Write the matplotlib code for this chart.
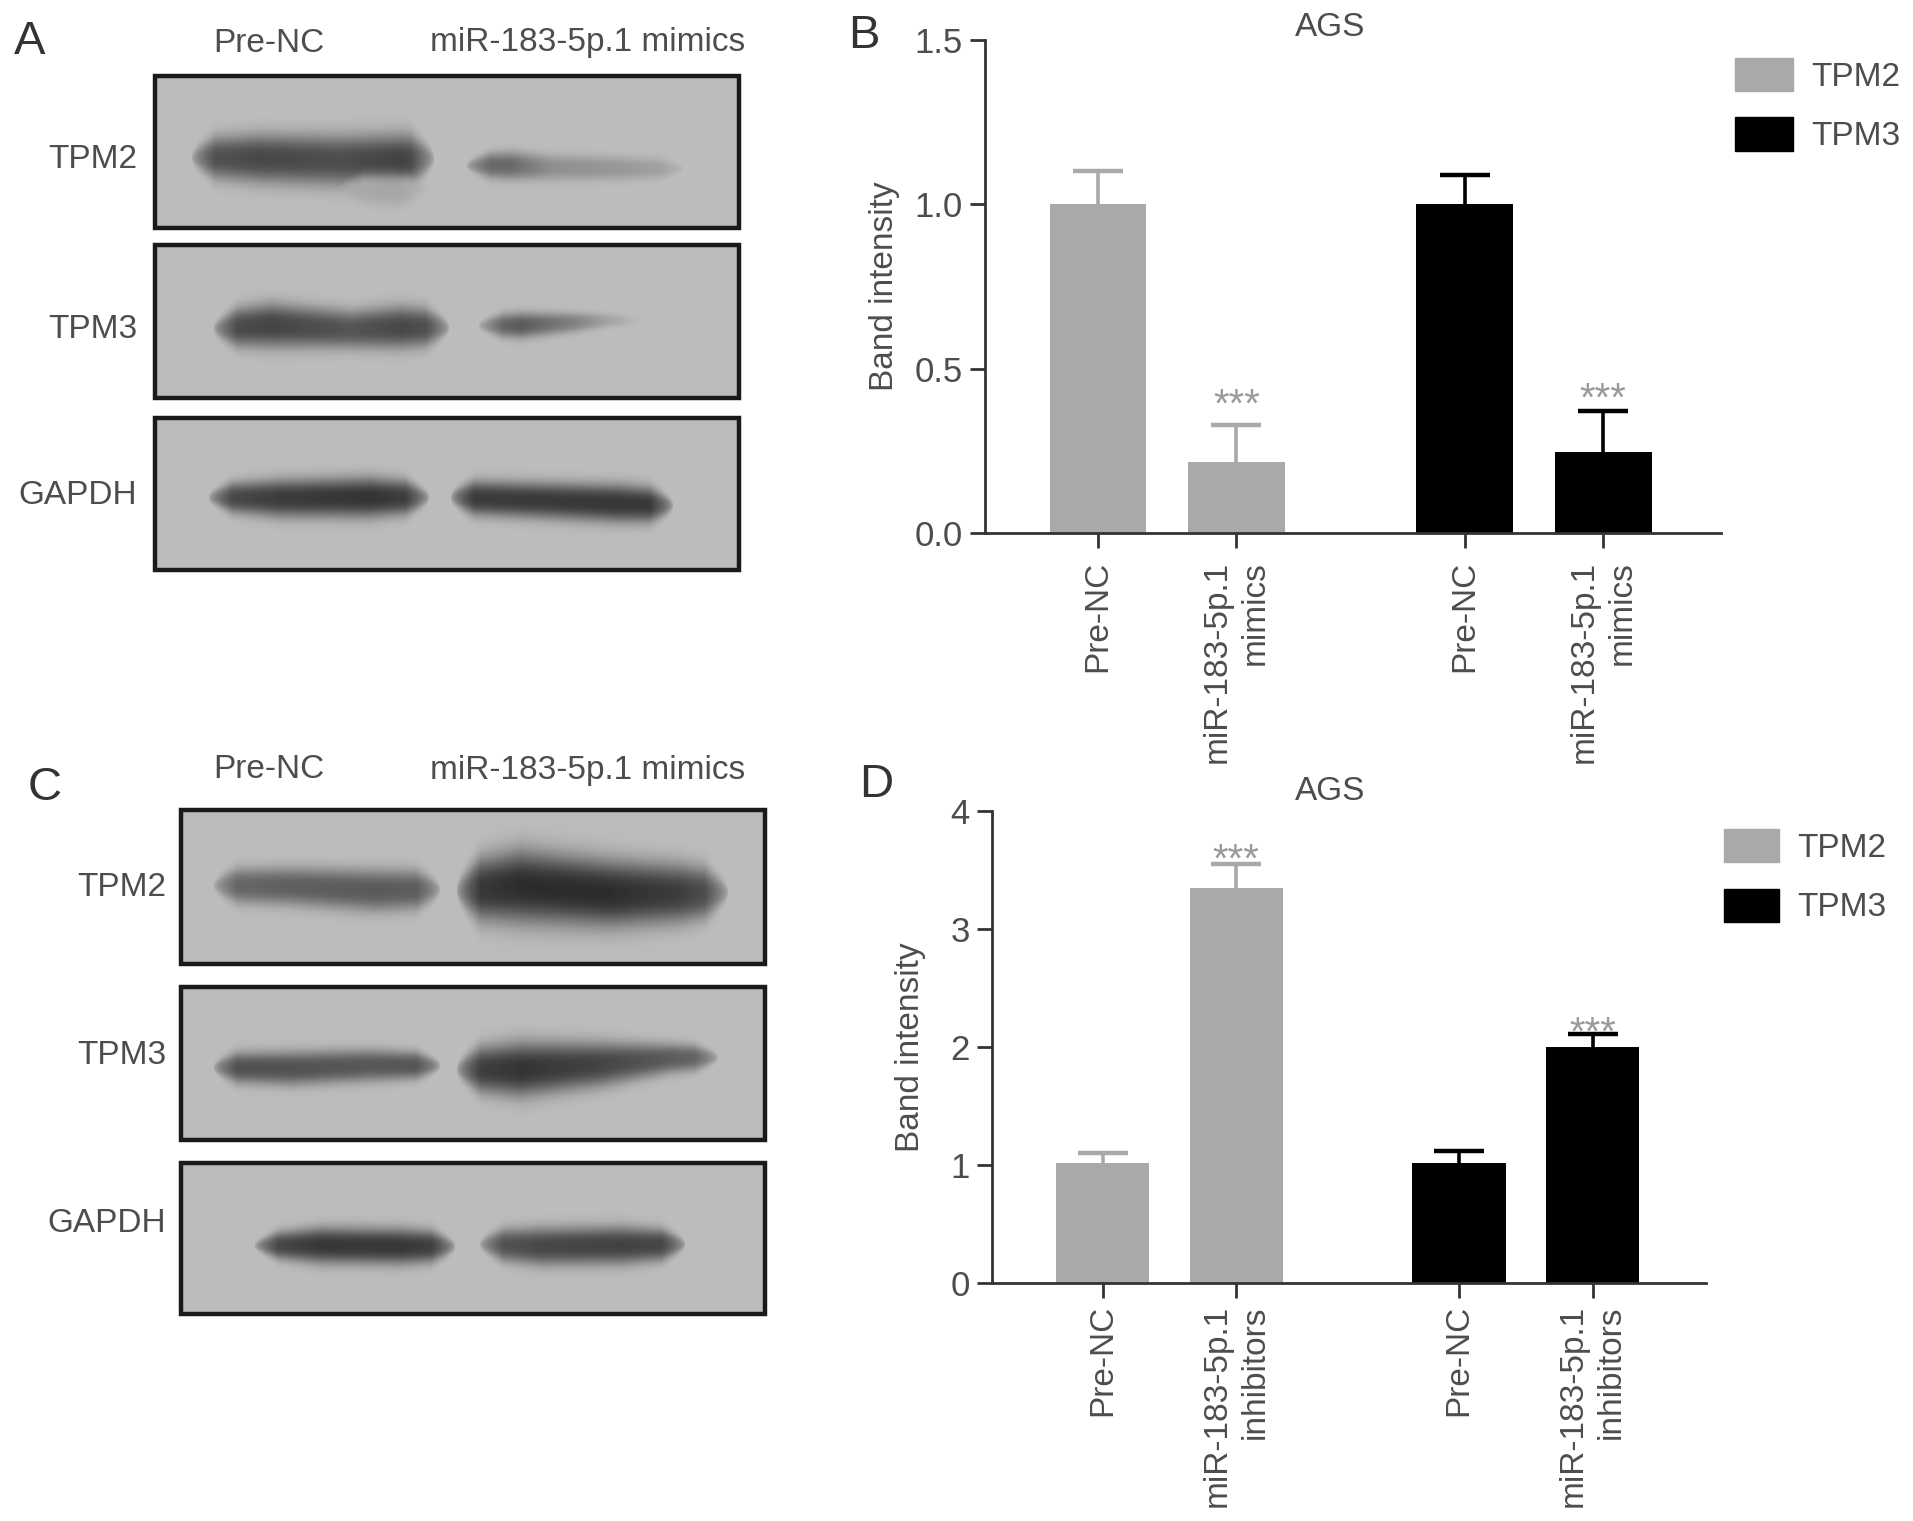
import numpy as np
import matplotlib
matplotlib.use('Agg')
import matplotlib.pyplot as plt
from matplotlib.patches import Patch, Rectangle

plt.rcParams['font.family'] = ['Liberation Sans', 'DejaVu Sans']

W, H = 1913, 1521
TEXT = '#4d4d4d'
AXIS = '#333333'
GRAY = '#a9a9a9'
BLACK = '#000000'
STAR = '#9a9a9a'
BLOT_BG = 188

# --- panel B values ---
b_pos = [0, 1, 2.65, 3.65]
b_vals = [1.0, 0.215, 1.0, 0.245]
b_tops = [1.10, 0.33, 1.09, 0.37]
b_stars = [None, 0.42, None, 0.44]
b_labels = ['Pre-NC', 'miR-183-5p.1\nmimics', 'Pre-NC', 'miR-183-5p.1\nmimics']
b_ticks = [0.0, 0.5, 1.0, 1.5]

# --- panel D values ---
d_pos = [0, 1, 2.67, 3.67]
d_vals = [1.02, 3.35, 1.02, 2.0]
d_tops = [1.105, 3.55, 1.115, 2.11]
d_stars = [None, 3.67, None, 2.21]
d_labels = ['Pre-NC', 'miR-183-5p.1\ninhibitors', 'Pre-NC', 'miR-183-5p.1\ninhibitors']
d_ticks = [0, 1, 2, 3, 4]

bar_colors = [GRAY, GRAY, BLACK, BLACK]

# --- western blot bands: (x, y centre, half height, grey level) along each band ---
a_tpm2 = [[(197, 157, 19, 85), (260, 158, 23, 72), (340, 160, 24, 78), (400, 160, 25, 66), (428, 158, 22, 85)],
          [(345, 188, 12, 172), (395, 190, 15, 165), (425, 188, 10, 178)],
          [(472, 165, 11, 105), (510, 165, 13, 105), (550, 167, 12, 142), (620, 168, 11, 152), (677, 168, 9, 165)]]
a_tpm3 = [[(219, 328, 17, 80), (270, 325, 21, 68), (350, 329, 18, 85), (400, 327, 20, 72), (443, 327, 17, 85)],
          [(484, 325, 10, 115), (520, 325, 12, 90), (575, 322, 9, 130), (610, 320, 6, 165), (640, 320, 4, 184)]]
a_gapdh = [[(214, 497, 13, 78), (280, 498, 18, 60), (370, 497, 19, 52), (423, 497, 15, 68)],
           [(456, 497, 16, 60), (540, 500, 17, 58), (620, 503, 18, 55), (667, 505, 16, 60)]]

c_tpm2 = [[(219, 885, 16, 105), (290, 886, 18, 95), (375, 890, 20, 90), (434, 889, 18, 95)],
          [(462, 890, 28, 62), (520, 886, 35, 45), (610, 893, 32, 45), (680, 893, 28, 62), (722, 892, 22, 90)]]
c_tpm3 = [[(219, 1067, 14, 82), (290, 1068, 16, 82), (370, 1065, 15, 88), (434, 1065, 12, 85)],
          [(462, 1069, 20, 68), (520, 1069, 26, 52), (600, 1064, 21, 68), (670, 1058, 14, 92), (712, 1057, 11, 105)]]
c_gapdh = [[(260, 1245, 11, 78), (320, 1245, 17, 56), (400, 1246, 17, 56), (449, 1246, 14, 68)],
           [(485, 1244, 14, 88), (540, 1246, 18, 72), (620, 1245, 18, 66), (679, 1244, 14, 72)]]


def draw_blot(canvas, box, bands):
    """Paint one blot strip: grey membrane, soft dark bands, black frame."""
    x0, y0, x1, y1 = box
    xx, yy = np.meshgrid(np.arange(x0, x1), np.arange(y0, y1))
    img = np.full(xx.shape, float(BLOT_BG))
    for band in bands:
        pts = np.array(band, dtype=float)
        yc = np.interp(xx, pts[:, 0], pts[:, 1])
        hh = np.interp(xx, pts[:, 0], pts[:, 2])
        level = np.interp(xx, pts[:, 0], pts[:, 3])
        # rounded ends: the band narrows and fades over its last pixels
        ends = np.clip((xx - pts[0, 0] + 6) / 24, 0, 1) * np.clip((pts[-1, 0] + 6 - xx) / 24, 0, 1)
        across = np.exp(-np.abs((yy - yc) / (hh * np.sqrt(ends) + 0.5)) ** 2.6)
        weight = ends ** 0.5 * across
        img = img * (1 - weight) + level * weight
    canvas.imshow(img, extent=(x0, x1, y1, y0), cmap='gray', vmin=0, vmax=255,
                  aspect='auto', interpolation='bilinear', zorder=1)
    canvas.add_patch(Rectangle((x0, y0), x1 - x0, y1 - y0, fill=False,
                               edgecolor='#1a1a1a', linewidth=3.2, zorder=2))


def draw_bars(px_box, xlim, ylim, pos, vals, tops, stars, labels, ticks, fmt, xpad):
    """Bar panel with upper error bars; px_box is left, top, right, bottom in pixels."""
    left, top, right, bottom = px_box
    ax = fig.add_axes([left / W, 1 - bottom / H, (right - left) / W, (bottom - top) / H])
    ax.patch.set_alpha(0)
    ax.bar(pos, vals, width=0.70, color=bar_colors, linewidth=0, zorder=2)
    for x, v, t, c in zip(pos, vals, tops, bar_colors):
        _, caps, _ = ax.errorbar(x, v, yerr=[[0], [t - v]], color=c, elinewidth=2.6, capsize=18,
                                 capthick=3.2, zorder=1, clip_on=False)
        caps[0].set_visible(False)
    for x, s in zip(pos, stars):
        if s is not None:
            ax.annotate('***', (x, s), xytext=(0, -8), textcoords='offset points',
                        ha='center', va='center', fontsize=29, color=STAR)
    ax.set_xlim(xlim)
    ax.set_ylim(ylim)
    for side in ['top', 'right']:
        ax.spines[side].set_visible(False)
    for side in ['left', 'bottom']:
        ax.spines[side].set_linewidth(2.0)
        ax.spines[side].set_color(AXIS)
    ax.set_yticks(ticks)
    ax.set_yticklabels([fmt % t for t in ticks])
    ax.set_xticks(pos)
    ax.set_xticklabels(labels, rotation=90, ha='center', va='top', multialignment='right',
                       linespacing=1.3)
    ax.tick_params(axis='y', length=11, width=2.0, color=AXIS, labelsize=25,
                   labelcolor=TEXT, pad=5)
    ax.tick_params(axis='x', length=11, width=2.0, color=AXIS, labelsize=24,
                   labelcolor=TEXT, pad=xpad)
    ax.set_ylabel('Band intensity', fontsize=24, color=TEXT)
    return ax


fig = plt.figure(figsize=(W / 100, H / 100), dpi=100, facecolor='white')

canvas = fig.add_axes([0, 0, 1, 1])
draw_blot(canvas, (155, 76, 739, 228), a_tpm2)
draw_blot(canvas, (155, 245, 739, 398), a_tpm3)
draw_blot(canvas, (155, 418, 739, 570), a_gapdh)
draw_blot(canvas, (181, 810, 765, 964), c_tpm2)
draw_blot(canvas, (181, 987, 765, 1140), c_tpm3)
draw_blot(canvas, (181, 1163, 765, 1314), c_gapdh)
canvas.set_xlim(0, W)
canvas.set_ylim(H, 0)
canvas.axis('off')

# blot captions
for y_head, right_x, rows in [(43, 137, [(160, 'TPM2'), (329, 'TPM3'), (496, 'GAPDH')]),
                              (770, 166, [(887, 'TPM2'), (1056, 'TPM3'), (1224, 'GAPDH')])]:
    canvas.text(269, y_head, 'Pre-NC', ha='center', va='center', fontsize=24, color=TEXT)
    canvas.text(588, y_head, 'miR-183-5p.1 mimics', ha='center', va='center', fontsize=24, color=TEXT)
    for y, name in rows:
        canvas.text(right_x, y, name, ha='right', va='center', fontsize=24, color=TEXT)

# panel letters
for x, y, letter in [(30, 42, 'A'), (864, 36, 'B'), (45, 788, 'C'), (876, 785, 'D')]:
    canvas.text(x, y, letter, ha='center', va='center', fontsize=34, color='#333333')

ax_b = draw_bars((985, 40, 1721, 533), (-0.816, 4.5), (0, 1.5), b_pos, b_vals, b_tops,
                 b_stars, b_labels, b_ticks, '%.1f', 9)
ax_d = draw_bars((992, 811, 1706, 1283), (-0.83, 4.52), (0, 4), d_pos, d_vals, d_tops,
                 d_stars, d_labels, d_ticks, '%d', 5)
ax_b.yaxis.set_label_coords((900 - 985) / 736, 0.5)
ax_d.yaxis.set_label_coords((926 - 992) / 714, 0.5)

canvas.text(1330, 27, 'AGS', ha='center', va='center', fontsize=24, color=TEXT)
canvas.text(1330, 792, 'AGS', ha='center', va='center', fontsize=24, color=TEXT)

# legends
handles = [Patch(facecolor=GRAY, edgecolor=GRAY, label='TPM2'),
           Patch(facecolor=BLACK, edgecolor=BLACK, label='TPM3')]
for lx, ly, hlen in [(1735, 58, 1.74), (1724, 829, 1.66)]:
    fig.legend(handles=handles, loc='upper left', bbox_to_anchor=(lx / W, 1 - ly / H),
               frameon=False, fontsize=24, labelcolor=TEXT, borderpad=0, borderaxespad=0,
               handlelength=hlen, handleheight=1.15, handletextpad=0.55, labelspacing=0.74)

fig.savefig('out.png', dpi=100)
